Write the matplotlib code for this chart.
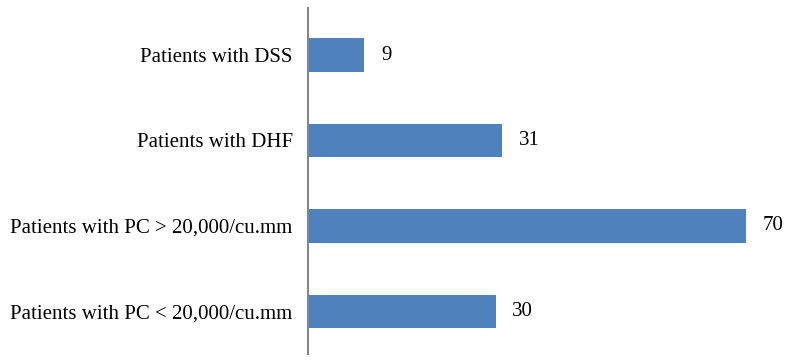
import matplotlib
matplotlib.use("Agg")
import matplotlib.pyplot as plt

categories = ["Patients with PC < 20,000/cu.mm",
              "Patients with PC > 20,000/cu.mm",
              "Patients with DHF",
              "Patients with DSS"]
values = [30, 70, 31, 9]

plt.rcParams['font.family'] = ['Liberation Serif', 'DejaVu Serif']

fig = plt.figure(figsize=(8.0, 3.61), dpi=100)
ax = fig.add_axes([0.385, 0.019, 0.61, 0.947])
ypos = list(range(len(categories)))
bars = ax.barh(ypos, values, height=0.39, color="#4f81bd")
ax.set_xlim(0, 78)
ax.set_ylim(-0.5, 3.5)
ax.set_yticks(ypos)
ax.set_yticklabels(categories, fontsize=15)
ax.tick_params(axis='y', length=0, pad=11)
ax.set_xticks([])
for s in ["top", "right", "bottom"]:
    ax.spines[s].set_visible(False)
ax.spines["left"].set_color("#868686")
ax.spines["left"].set_linewidth(1.5)
ax.spines["left"].set_bounds(-0.5, 3.55)
for b, v in zip(bars, values):
    ax.annotate(str(v), (b.get_width(), b.get_y() + b.get_height() / 2),
                xytext=(12, 0), textcoords="offset points",
                va="center", ha="left", fontsize=15, annotation_clip=False)
fig.savefig("out.png", dpi=100)
